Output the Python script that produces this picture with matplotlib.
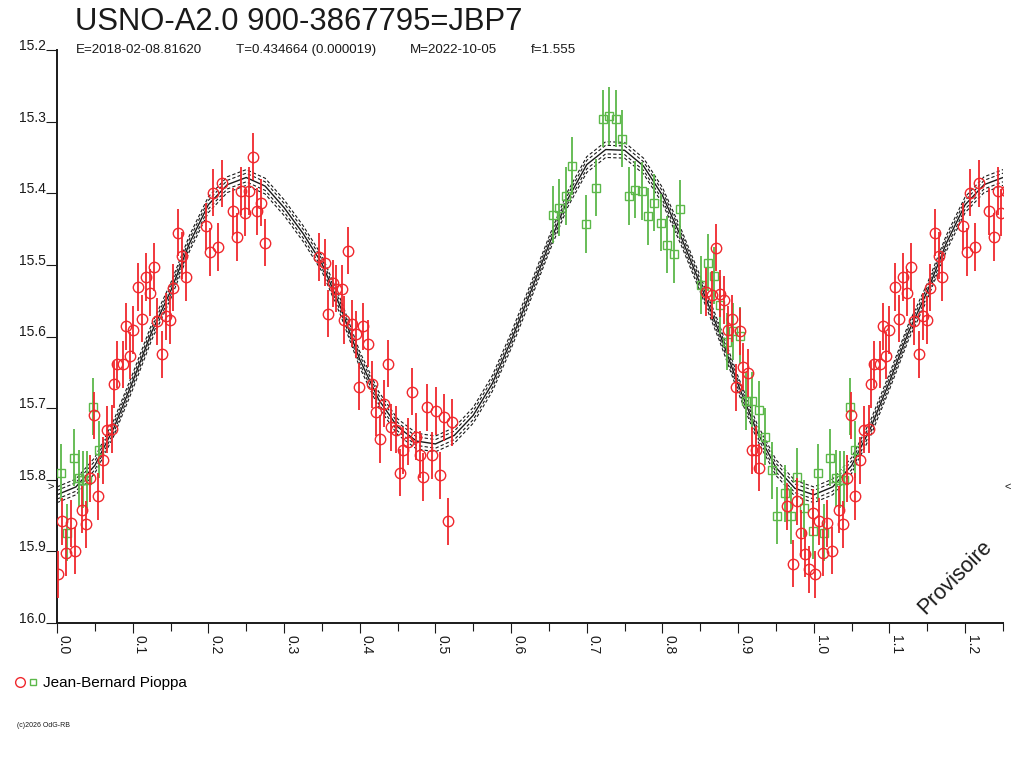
import numpy as np
import matplotlib
matplotlib.use("Agg")
import matplotlib.pyplot as plt
from matplotlib.lines import Line2D
from matplotlib.legend_handler import HandlerTuple

plt.rcParams['font.family'] = ['Liberation Sans', 'DejaVu Sans']

TITLE = "USNO-A2.0 900-3867795=JBP7"
SUBTITLE = ["E=2018-02-08.81620", "T=0.434664 (0.000019)",
            "M=2022-10-05", "f=1.555"]
OBSERVER = "Jean-Bernard Pioppa"
COPYRIGHT = "(c)2026 OdG-RB"
STAMP = "Provisoire"

x_ticks = [0.0, 0.1, 0.2, 0.3, 0.4, 0.5, 0.6, 0.7, 0.8, 0.9, 1.0, 1.1, 1.2]
x_labels = ["0.0", "0.1", "0.2", "0.3", "0.4", "0.5", "0.6", "0.7",
            "0.8", "0.9", "1.0", "1.1", "1.2"]
y_ticks = [15.2, 15.3, 15.4, 15.5, 15.6, 15.7, 15.8, 15.9, 16.0]
y_labels = ["15.2", "15.3", "15.4", "15.5", "15.6", "15.7", "15.8",
            "15.9", "16.0"]

# observations (phase, magnitude), red circles
red_phase = [0.001, 0.007, 0.012, 0.018, 0.024, 0.033, 0.038, 0.044, 0.049,
             0.054, 0.061, 0.066, 0.073, 0.075, 0.079, 0.087, 0.091, 0.096,
             0.100, 0.107, 0.112, 0.118, 0.123, 0.128, 0.132, 0.139, 0.144,
             0.149, 0.153, 0.160, 0.165, 0.170, 0.197, 0.202, 0.206, 0.213,
             0.218, 0.232, 0.238, 0.243, 0.248, 0.254, 0.259, 0.264, 0.269,
             0.275,
             0.346, 0.354, 0.358, 0.365, 0.369, 0.376, 0.379, 0.385, 0.390,
             0.395, 0.399, 0.404, 0.411, 0.416, 0.421, 0.427, 0.432, 0.437,
             0.441, 0.448, 0.453, 0.457, 0.464, 0.469, 0.474, 0.480, 0.483,
             0.489, 0.495, 0.501, 0.506, 0.511, 0.517, 0.522,
             0.857, 0.865, 0.871, 0.876, 0.881, 0.886, 0.892, 0.897, 0.902,
             0.906, 0.913, 0.918, 0.923, 0.927, 0.964, 0.972, 0.978, 0.983,
             0.988, 0.993, 0.999]
red_mag = [15.932, 15.858, 15.902, 15.861, 15.899, 15.842, 15.862, 15.798,
           15.710, 15.823, 15.773, 15.730, 15.729, 15.667, 15.639, 15.639,
           15.586, 15.627, 15.591, 15.531, 15.575, 15.517, 15.539, 15.503,
           15.579, 15.625, 15.572, 15.577, 15.532, 15.455, 15.487, 15.517,
           15.446, 15.482, 15.399, 15.475, 15.386, 15.425, 15.461, 15.397,
           15.427, 15.397, 15.349, 15.425, 15.413, 15.469,
           15.489, 15.497, 15.568, 15.526, 15.533, 15.533, 15.577, 15.480,
           15.582, 15.597, 15.670, 15.586, 15.610, 15.667, 15.706, 15.743,
           15.694, 15.638, 15.727, 15.730, 15.790, 15.759, 15.747, 15.677,
           15.740, 15.765, 15.796, 15.699, 15.766, 15.704, 15.794, 15.713,
           15.858, 15.720,
           15.538, 15.542, 15.476, 15.540, 15.549, 15.591, 15.575, 15.671,
           15.593, 15.642, 15.651, 15.759, 15.758, 15.783, 15.837, 15.917,
           15.830, 15.875, 15.903, 15.925, 15.846]
red_err = 0.033

# observations, green squares
green_phase = [0.005, 0.013, 0.022, 0.029, 0.034, 0.040, 0.048, 0.055,
               0.655, 0.663, 0.672, 0.680, 0.699, 0.712, 0.721, 0.729,
               0.738, 0.746, 0.756, 0.764, 0.773, 0.781, 0.789, 0.798,
               0.806, 0.815, 0.823, 0.851, 0.860, 0.868, 0.876, 0.885,
               0.893, 0.902, 0.910, 0.918, 0.927, 0.935, 0.945, 0.952,
               0.962, 0.970, 0.978, 0.987, 0.999]
green_mag = [15.790, 15.874, 15.769, 15.798, 15.800, 15.800, 15.698, 15.758,
             15.430, 15.420, 15.404, 15.362, 15.443, 15.392, 15.296, 15.292,
             15.296, 15.324, 15.404, 15.395, 15.397, 15.432, 15.413, 15.441,
             15.472, 15.485, 15.422, 15.528, 15.497, 15.515, 15.556, 15.607,
             15.593, 15.599, 15.690, 15.690, 15.702, 15.740, 15.787, 15.850,
             15.819, 15.850, 15.796, 15.840, 15.871]
green_err = 0.040

fit_phase = [0.000, 0.025, 0.050, 0.075, 0.100, 0.125, 0.150, 0.175, 0.200,
             0.225, 0.250, 0.275, 0.300, 0.325, 0.350, 0.375, 0.400, 0.425,
             0.450, 0.475, 0.500, 0.525, 0.550, 0.575, 0.600, 0.625, 0.650,
             0.675, 0.700, 0.725, 0.750, 0.775, 0.800, 0.825, 0.850, 0.875,
             0.900, 0.925, 0.950, 0.975, 1.000]
fit_mag = [15.821, 15.810, 15.780, 15.728, 15.663, 15.594, 15.537, 15.470,
           15.416, 15.388, 15.378, 15.390, 15.420, 15.456, 15.498, 15.560,
           15.632, 15.688, 15.726, 15.746, 15.750, 15.738, 15.710, 15.666,
           15.606, 15.540, 15.472, 15.408, 15.360, 15.339, 15.340, 15.362,
           15.403, 15.462, 15.527, 15.594, 15.667, 15.733, 15.783, 15.812,
           15.821]
fit_band = [0.006, 0.011]
min_level = 15.81


def fold(phase, mag, upto=0.3):
    phase = np.asarray(phase)
    mag = np.asarray(mag)
    sel = phase < upto
    return (np.concatenate([phase, phase[sel] + 1.0]),
            np.concatenate([mag, mag[sel]]))


def main():
    red = '#f0282d'
    green = '#5cb84a'
    ink = '#1a1a1a'

    fig = plt.figure(figsize=(10.24, 7.68), dpi=100)
    ax = fig.add_axes([57 / 1024, 145 / 768, 946 / 1024, 573 / 768])

    # fit curve with its envelope
    fp, fm = fold(fit_phase[:-1], fit_mag[:-1], upto=0.3)
    order = np.argsort(fp)
    fp, fm = fp[order], fm[order]
    ax.plot(fp, fm, color=ink, lw=1.0, zorder=3)
    for w in fit_band:
        for s in (-1, 1):
            ax.plot(fp, fm + s * w, color=ink, lw=0.8,
                    linestyle=(0, (3, 2)), zorder=3)

    gp, gm = fold(green_phase, green_mag)
    ax.errorbar(gp, gm, yerr=green_err, fmt='s', ms=5.8, mfc='none',
                mec=green, mew=1.0, ecolor=green, elinewidth=1.3,
                capsize=0, zorder=4)
    rp, rm = fold(red_phase, red_mag)
    ax.errorbar(rp, rm, yerr=red_err, fmt='o', ms=7.5, mfc='none',
                mec=red, mew=1.0, ecolor=red, elinewidth=1.3,
                capsize=0, zorder=5)

    ax.set_xlim(0.0, 1.25)
    ax.set_ylim(16.0, 15.2)

    ax.set_xticks(x_ticks)
    ax.set_xticklabels(x_labels)
    ax.set_xticks(np.arange(0.05, 1.26, 0.1), minor=True)
    ax.tick_params(axis='x', which='major', direction='out', length=7.5,
                   width=0.8, pad=1, labelsize=10, labelrotation=-90,
                   colors=ink)
    ax.tick_params(axis='x', which='minor', direction='out', length=6,
                   width=0.8, colors=ink)
    for lab in ax.get_xticklabels():
        lab.set_ha('left')
        lab.set_va('top')

    ax.set_yticks(y_ticks)
    ax.set_yticklabels(y_labels)
    ax.tick_params(axis='y', direction='out', length=8, width=0.8, pad=0,
                   labelsize=10, colors=ink)
    for lab in ax.get_yticklabels():
        lab.set_va('baseline')

    for side in ('top', 'right'):
        ax.spines[side].set_visible(False)
    for side in ('left', 'bottom'):
        ax.spines[side].set_linewidth(1.4)
        ax.spines[side].set_color(ink)

    # minimum level markers on both sides
    ax.text(-0.009, min_level, '>', fontsize=8, ha='center', va='center',
            color=ink, clip_on=False)
    ax.text(1.256, min_level, '<', fontsize=8, ha='center', va='center',
            color=ink, clip_on=False)

    fig.text(75 / 1024, 1 - 30 / 768, TITLE, fontsize=22.3, color=ink,
             va='baseline')
    for x0, s in zip([76, 236, 410, 531], SUBTITLE):
        fig.text(x0 / 1024, 1 - 53 / 768, s, fontsize=9.6, color=ink,
                 va='baseline')

    fig.text(955 / 1024, 1 - 577 / 768, STAMP, fontsize=15.5, rotation=45,
             ha='center', va='center', color=ink)

    h_red = Line2D([], [], marker='o', ls='none', ms=7, mfc='none',
                   mec=red, mew=1.0)
    h_green = Line2D([], [], marker='s', ls='none', ms=5, mfc='none',
                     mec=green, mew=1.0)
    fig.legend(handles=[(h_red, h_green)], labels=[OBSERVER],
               handler_map={tuple: HandlerTuple(ndivide=None, pad=0.2)},
               loc='center left', bbox_to_anchor=(15 / 1024, 1 - 683 / 768),
               frameon=False, fontsize=11, handlelength=1.5,
               handletextpad=0.35, borderpad=0, borderaxespad=0)

    fig.text(17 / 1024, 1 - 727 / 768, COPYRIGHT, fontsize=5, color=ink,
             va='baseline')

    fig.savefig('out.png', dpi=100)


if __name__ == "__main__":
    main()
